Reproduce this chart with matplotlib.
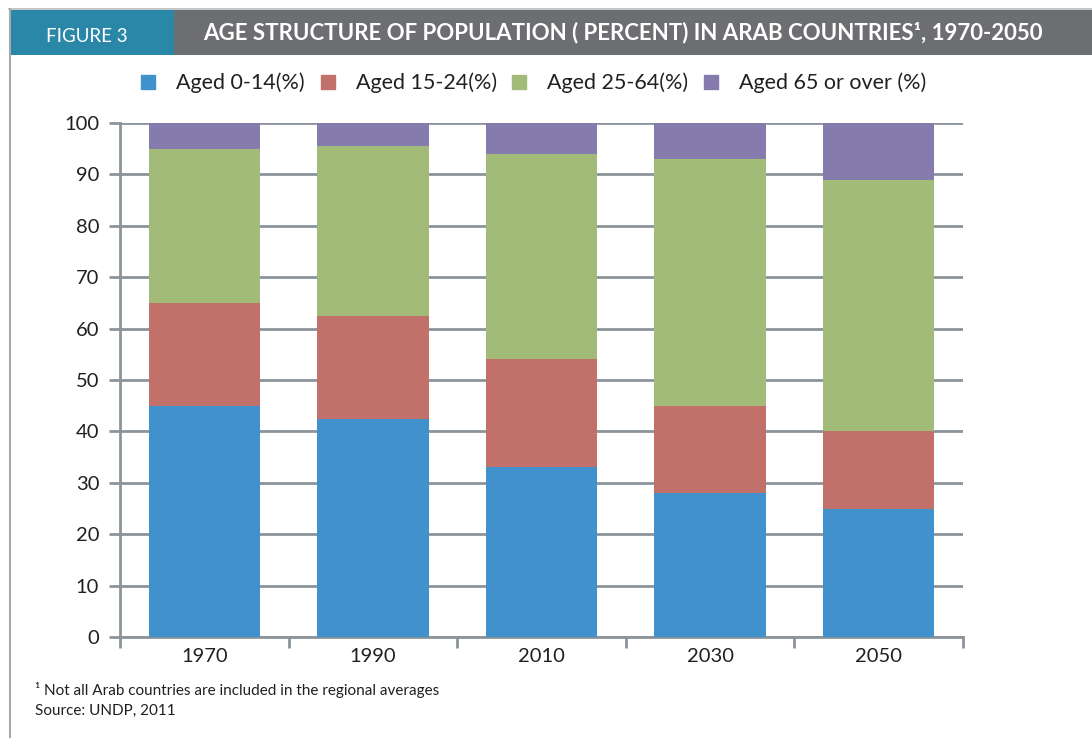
import matplotlib
matplotlib.use("Agg")
import matplotlib.pyplot as plt
from matplotlib.patches import Rectangle
from matplotlib.lines import Line2D
import numpy as np

years = ["1970", "1990", "2010", "2030", "2050"]
series_names = ["Aged 0-14(%)", "Aged 15-24(%)", "Aged 25-64(%)", "Aged 65 or over (%)"]
aged_0_14 = [45, 42.5, 33, 28, 25]
aged_15_24 = [20, 20, 21, 17, 15]
aged_25_64 = [30, 33, 40, 48, 49]
aged_65_over = [5, 4.5, 6, 7, 11]
y_ticks = [0, 10, 20, 30, 40, 50, 60, 70, 80, 90, 100]

colors = ["#4192cc", "#c2706a", "#a3bb78", "#857cad"]
grid_col = "#8c949b"
text_col = "#231f20"

W, H = 1092, 738
fig = plt.figure(figsize=(W / 100, H / 100), dpi=100)
fig.patch.set_facecolor("white")

def fx(px):
    return px / W

def fy(py):
    return 1 - py / H

# frame lines and header band
fig.add_artist(Line2D([fx(9), fx(1092)], [fy(9), fy(9)], color="#b9bbbd", lw=1.2))
fig.add_artist(Line2D([fx(9.5), fx(9.5)], [fy(9), fy(738)], color="#a7a9ac", lw=1.5))
fig.add_artist(Rectangle((fx(10), fy(55)), fx(174) - fx(10), fy(10) - fy(55),
                         transform=fig.transFigure, color="#2a87a8", lw=0))
fig.add_artist(Rectangle((fx(174), fy(55)), fx(1092) - fx(174), fy(10) - fy(55),
                         transform=fig.transFigure, color="#6d6e71", lw=0))
fig.text(fx(87), fy(36), "FIGURE 3", color="white", fontsize=13.5, family="Lato",
         ha="center", va="center")
fig.text(fx(623), fy(33), "AGE STRUCTURE OF POPULATION ( PERCENT) IN ARAB COUNTRIES\u00b9, 1970-2050",
         color="white", fontsize=16, family=["Lato", "DejaVu Sans"], weight="bold",
         ha="center", va="center")

ax = fig.add_axes([fx(120), fy(637), fx(963) - fx(120), fy(123) - fy(637)])
x = np.arange(len(years))
bottom = np.zeros(len(years))
for vals, c in zip([aged_0_14, aged_15_24, aged_25_64, aged_65_over], colors):
    ax.bar(x, vals, width=0.66, bottom=bottom, color=c, edgecolor="none", zorder=3)
    bottom += np.array(vals)

ax.set_xlim(-0.5, len(years) - 0.5)
ax.set_ylim(0, 100)
ax.set_yticks(y_ticks)
ax.set_yticklabels([str(t) for t in y_ticks], family="Lato", fontsize=14.5, color=text_col)
ax.yaxis.grid(True, color=grid_col, lw=2.0, zorder=0)
ax.set_axisbelow(True)
ax.set_xticks(np.arange(-0.5, len(years), 1.0))
ax.set_xticklabels([])
ax.set_xticks(x, minor=True)
ax.set_xticklabels(years, minor=True, family="Lato", fontsize=14.5, color=text_col)
ax.tick_params(axis="x", which="major", length=8, width=2, color=grid_col, direction="out")
ax.tick_params(axis="x", which="minor", length=0, pad=8)
ax.tick_params(axis="y", length=8, width=2, color=grid_col, pad=7)
for s in ["top", "right"]:
    ax.spines[s].set_visible(False)
for s in ["left", "bottom"]:
    ax.spines[s].set_color(grid_col)
    ax.spines[s].set_linewidth(2)

handles = [Line2D([], [], marker="s", ls="none", markersize=10, color=c) for c in colors]
fig.legend(handles, series_names, loc="center", bbox_to_anchor=(fx(532), fy(83)), ncol=4,
           frameon=False, prop={"family": "Lato", "size": 15.5}, handlelength=1.0,
           handletextpad=0.8, columnspacing=0.55, labelcolor=text_col)

fig.text(fx(35), fy(690), "\u00b9 Not all Arab countries are included in the regional averages",
         family=["Lato", "DejaVu Sans"], fontsize=11, color=text_col, va="center")
fig.text(fx(35), fy(711), "Source: UNDP, 2011", family="Lato", fontsize=11, color=text_col, va="center")

fig.savefig("out.png", dpi=100)
